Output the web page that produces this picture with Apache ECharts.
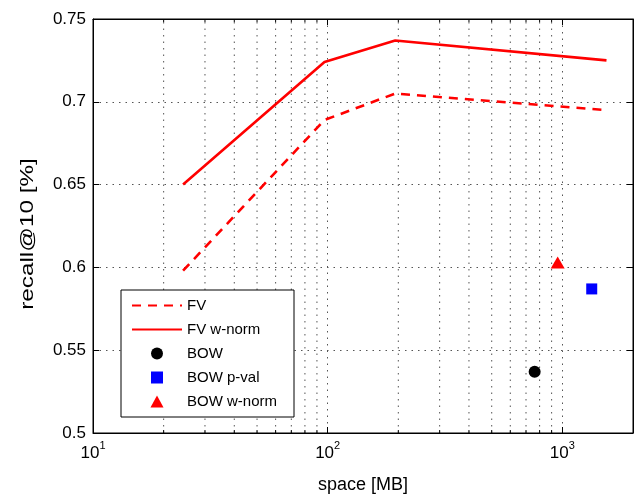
<!DOCTYPE html>
<html>
<head>
<meta charset="utf-8">
<script src="https://cdn.jsdelivr.net/npm/echarts@6/dist/echarts.min.js"></script>
<style>
  html, body { margin: 0; padding: 0; background: #fff; }
  #chart { width: 638px; height: 495px; }
</style>
</head>
<body>
<div id="chart"></div>
<script>
// values
var fvX = [24.2, 96.9, 194, 1542];
var fvY = [0.598, 0.689, 0.705, 0.695];
var fvNormX = [24.2, 96.9, 194, 1542];
var fvNormY = [0.65, 0.724, 0.737, 0.725];
var bow = [[762, 0.537]];
var bowPval = [[1334, 0.587]];
var bowNorm = [[955, 0.603]];

var yTicks = [0.5, 0.55, 0.6, 0.65, 0.7, 0.75];
var minorX = [20, 30, 40, 50, 60, 70, 80, 90, 200, 300, 400, 500, 600, 700, 800, 900];

var FONT = '"Liberation Sans", Arial, sans-serif';
var gridColor = '#555';
var gridDash = [1.5, 5];

function pairs(xs, ys) {
  return xs.map(function (x, i) { return [x, ys[i]]; });
}

var myChart = echarts.init(document.getElementById('chart'));

var option = {
  animation: false,
  backgroundColor: '#fff',
  textStyle: { fontFamily: FONT },
  grid: {
    left: 93, top: 19, right: 5, bottom: 62,
    outerBoundsMode: 'none',
    show: true, borderColor: '#000', borderWidth: 1
  },
  // y title is stretched along its length in the reference
  graphic: [{
    type: 'text',
    x: 28,
    y: 234,
    rotation: Math.PI / 2,
    scaleX: 1.35,
    style: {
      text: 'recall@10 [%]',
      font: '18px ' + FONT,
      fill: '#000',
      align: 'center',
      verticalAlign: 'middle'
    }
  }],
  legend: {
    data: [
      { name: 'FV', itemStyle: { opacity: 0 } },
      { name: 'FV w-norm', itemStyle: { opacity: 0 } },
      { name: 'BOW', icon: 'circle' },
      { name: 'BOW p-val', icon: 'path://M0,0L10,0L10,10L0,10Z' },
      { name: 'BOW w-norm', icon: 'path://M6,0L12,11L0,11Z' }
    ],
    orient: 'vertical',
    left: 121,
    top: 290,
    padding: [8, 17, 8, 10],
    itemWidth: 50,
    itemHeight: 12,
    itemGap: 9,
    borderColor: '#000',
    borderWidth: 1,
    backgroundColor: '#fff',
    textStyle: { fontFamily: FONT, fontSize: 15, color: '#000' }
  },
  xAxis: [{
    type: 'log',
    logBase: 10,
    min: 10,
    max: 2000,
    name: 'space [MB]',
    nameLocation: 'middle',
    nameGap: 43,
    nameTextStyle: { fontFamily: FONT, fontSize: 18, color: '#000' },
    axisLine: { lineStyle: { color: '#000', width: 1 } },
    axisTick: { inside: true, length: 6, lineStyle: { color: '#000' } },
    axisLabel: {
      color: '#000',
      margin: 7,
      showMaxLabel: false,
      formatter: function (v) {
        var e = Math.round(Math.log10(v));
        if (Math.abs(Math.log10(v) - e) > 1e-6) return '';
        return '{b|10}{s|' + e + '}';
      },
      rich: {
        b: { fontFamily: FONT, fontSize: 17, color: '#000', lineHeight: 22, verticalAlign: 'bottom' },
        s: { fontFamily: FONT, fontSize: 11, color: '#000', lineHeight: 22, verticalAlign: 'top' }
      }
    },
    splitLine: { show: true, lineStyle: { color: gridColor, type: gridDash, width: 1 } }
  }, {
    type: 'log',
    logBase: 10,
    min: 10,
    max: 2000,
    position: 'top',
    axisLine: { lineStyle: { color: '#000' } },
    axisTick: { inside: true, length: 6, lineStyle: { color: '#000' } },
    axisLabel: { show: false },
    splitLine: { show: false }
  }],
  yAxis: [{
    type: 'value',
    min: 0.5,
    max: 0.75,
    interval: 0.05,
    axisLine: { show: true, lineStyle: { color: '#000' } },
    axisTick: { show: true, inside: true, length: 6, lineStyle: { color: '#000' } },
    axisLabel: {
      color: '#000', fontFamily: FONT, fontSize: 17, margin: 7,
      formatter: function (v) {
        var t = yTicks.filter(function (y) { return Math.abs(y - v) < 1e-6; });
        return t.length ? String(t[0]) : '';
      }
    },
    splitLine: { show: true, lineStyle: { color: gridColor, type: gridDash, width: 1 } }
  }, {
    type: 'value',
    min: 0.5,
    max: 0.75,
    interval: 0.05,
    position: 'right',
    axisLine: { show: true, lineStyle: { color: '#000' } },
    axisTick: { show: true, inside: true, length: 6, lineStyle: { color: '#000' } },
    axisLabel: { show: false },
    splitLine: { show: false }
  }],
  series: [
    {
      // minor log grid + minor ticks
      type: 'custom',
      silent: true,
      z: 1,
      data: minorX,
      encode: { x: 0 },
      renderItem: function (params, api) {
        var v = api.value(0);
        var b = api.coord([v, 0.5]);
        var t = api.coord([v, 0.75]);
        return {
          type: 'group',
          children: [
            { type: 'line', shape: { x1: b[0], y1: b[1], x2: t[0], y2: t[1] },
              style: { stroke: gridColor, lineWidth: 1, lineDash: gridDash } },
            { type: 'line', shape: { x1: b[0], y1: b[1], x2: b[0], y2: b[1] - 3 },
              style: { stroke: '#000', lineWidth: 1 } },
            { type: 'line', shape: { x1: t[0], y1: t[1], x2: t[0], y2: t[1] + 3 },
              style: { stroke: '#000', lineWidth: 1 } }
          ]
        };
      }
    },
    {
      name: 'FV',
      type: 'line',
      data: pairs(fvX, fvY),
      symbol: 'none',
      z: 5,
      lineStyle: { color: '#ff0000', width: 2.6, type: [9, 7] },
      itemStyle: { color: '#ff0000' }
    },
    {
      name: 'FV w-norm',
      type: 'line',
      data: pairs(fvNormX, fvNormY),
      symbol: 'none',
      z: 5,
      lineStyle: { color: '#ff0000', width: 2.6 },
      itemStyle: { color: '#ff0000' }
    },
    {
      name: 'BOW',
      type: 'scatter',
      data: bow,
      symbol: 'circle',
      symbolSize: 12,
      z: 5,
      itemStyle: { color: '#000', opacity: 1 }
    },
    {
      name: 'BOW p-val',
      type: 'scatter',
      data: bowPval,
      symbol: 'rect',
      symbolSize: 11,
      z: 5,
      itemStyle: { color: '#0000ff', opacity: 1 }
    },
    {
      name: 'BOW w-norm',
      type: 'scatter',
      data: bowNorm,
      symbol: 'triangle',
      symbolSize: [14, 12],
      z: 5,
      itemStyle: { color: '#ff0000', opacity: 1 }
    }
  ]
};

option && myChart.setOption(option);
</script>
</body>
</html>
